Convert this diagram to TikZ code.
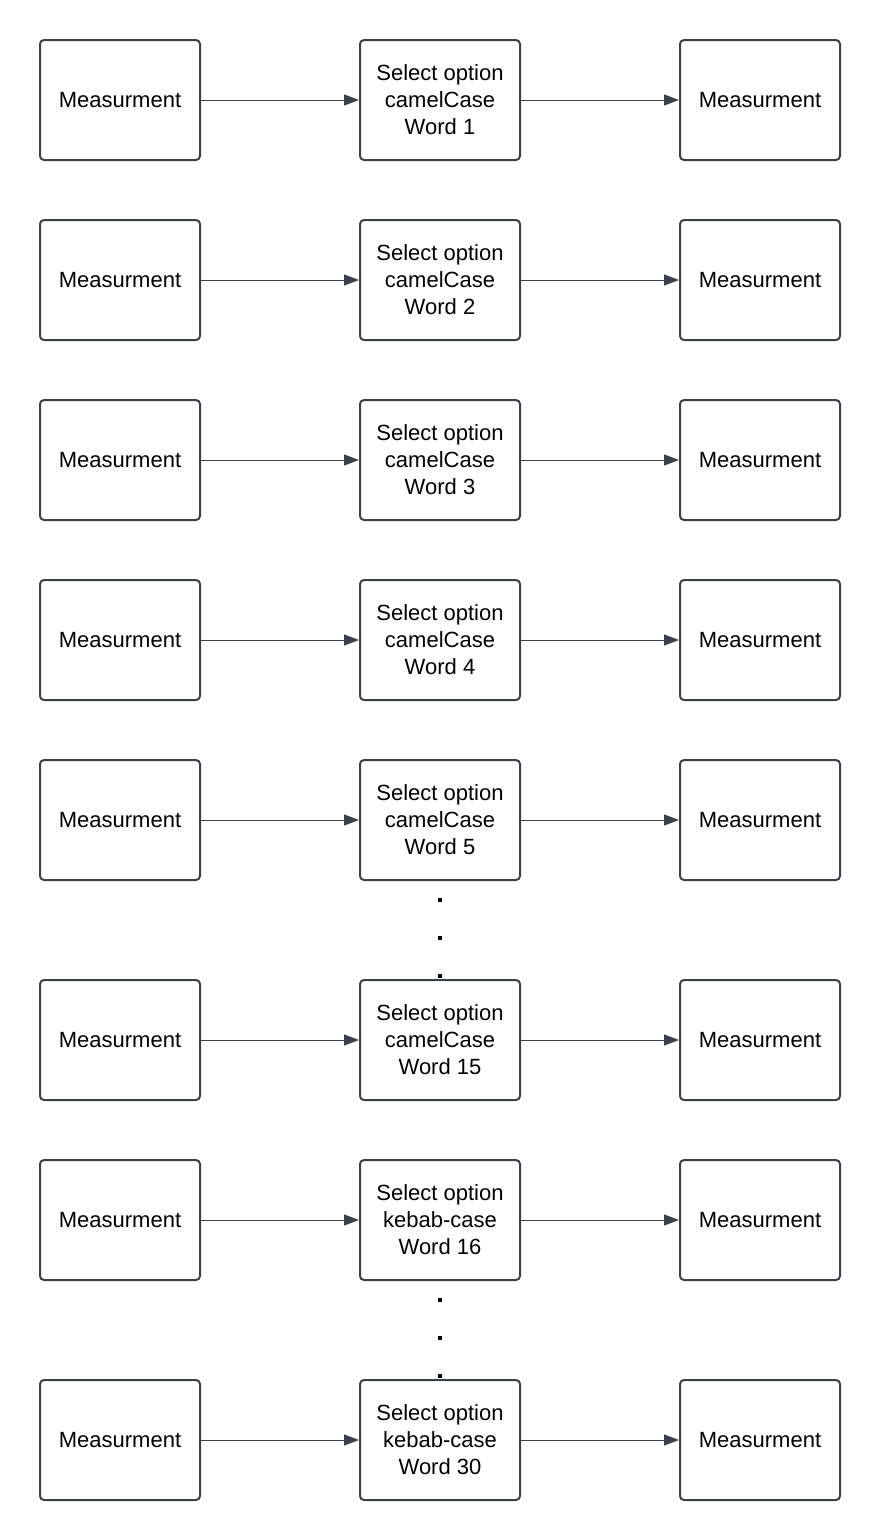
\documentclass[tikz,border=0pt]{standalone}
\usepackage{fontspec}
\setmainfont{Liberation Sans}
\usetikzlibrary{arrows.meta}
\definecolor{edge}{HTML}{3A414A}
\tikzset{
  box/.style={draw=edge, line width=2pt, rounded corners=4pt, minimum width=160pt, minimum height=120pt, align=center, inner sep=0pt, font=\fontsize{22}{27}\selectfont},
  conn/.style={draw=edge, line width=1pt, -{Triangle[length=15pt,width=11pt]}},
  dotm/.style={fill=black, minimum size=4pt, inner sep=0pt, draw=none}
}
\begin{document}
\begin{tikzpicture}[x=1pt,y=-1pt]
\useasboundingbox (0,0) rectangle (880,1540);
\foreach \i/\yy/\lab in {1/100/{camelCase\\Word 1},2/280/{camelCase\\Word 2},3/460/{camelCase\\Word 3},4/640/{camelCase\\Word 4},5/820/{camelCase\\Word 5},6/1040/{camelCase\\Word 15},7/1220/{kebab-case\\Word 16},8/1440/{kebab-case\\Word 30}} {
  \node[box] (l\i) at (120,\yy) {Measurment};
  \node[box] (m\i) at (440,\yy) {Select option\\\lab};
  \node[box] (r\i) at (760,\yy) {Measurment};
  \draw[conn] (l\i) -- (m\i);
  \draw[conn] (m\i) -- (r\i);
}
\node[dotm] (d1) at (440,900) {};
\node[dotm] (d2) at (440,938) {};
\node[dotm] (d3) at (440,976) {};
\node[dotm] (d4) at (440,1300) {};
\node[dotm] (d5) at (440,1338) {};
\node[dotm] (d6) at (440,1376) {};
\end{tikzpicture}
\end{document}
